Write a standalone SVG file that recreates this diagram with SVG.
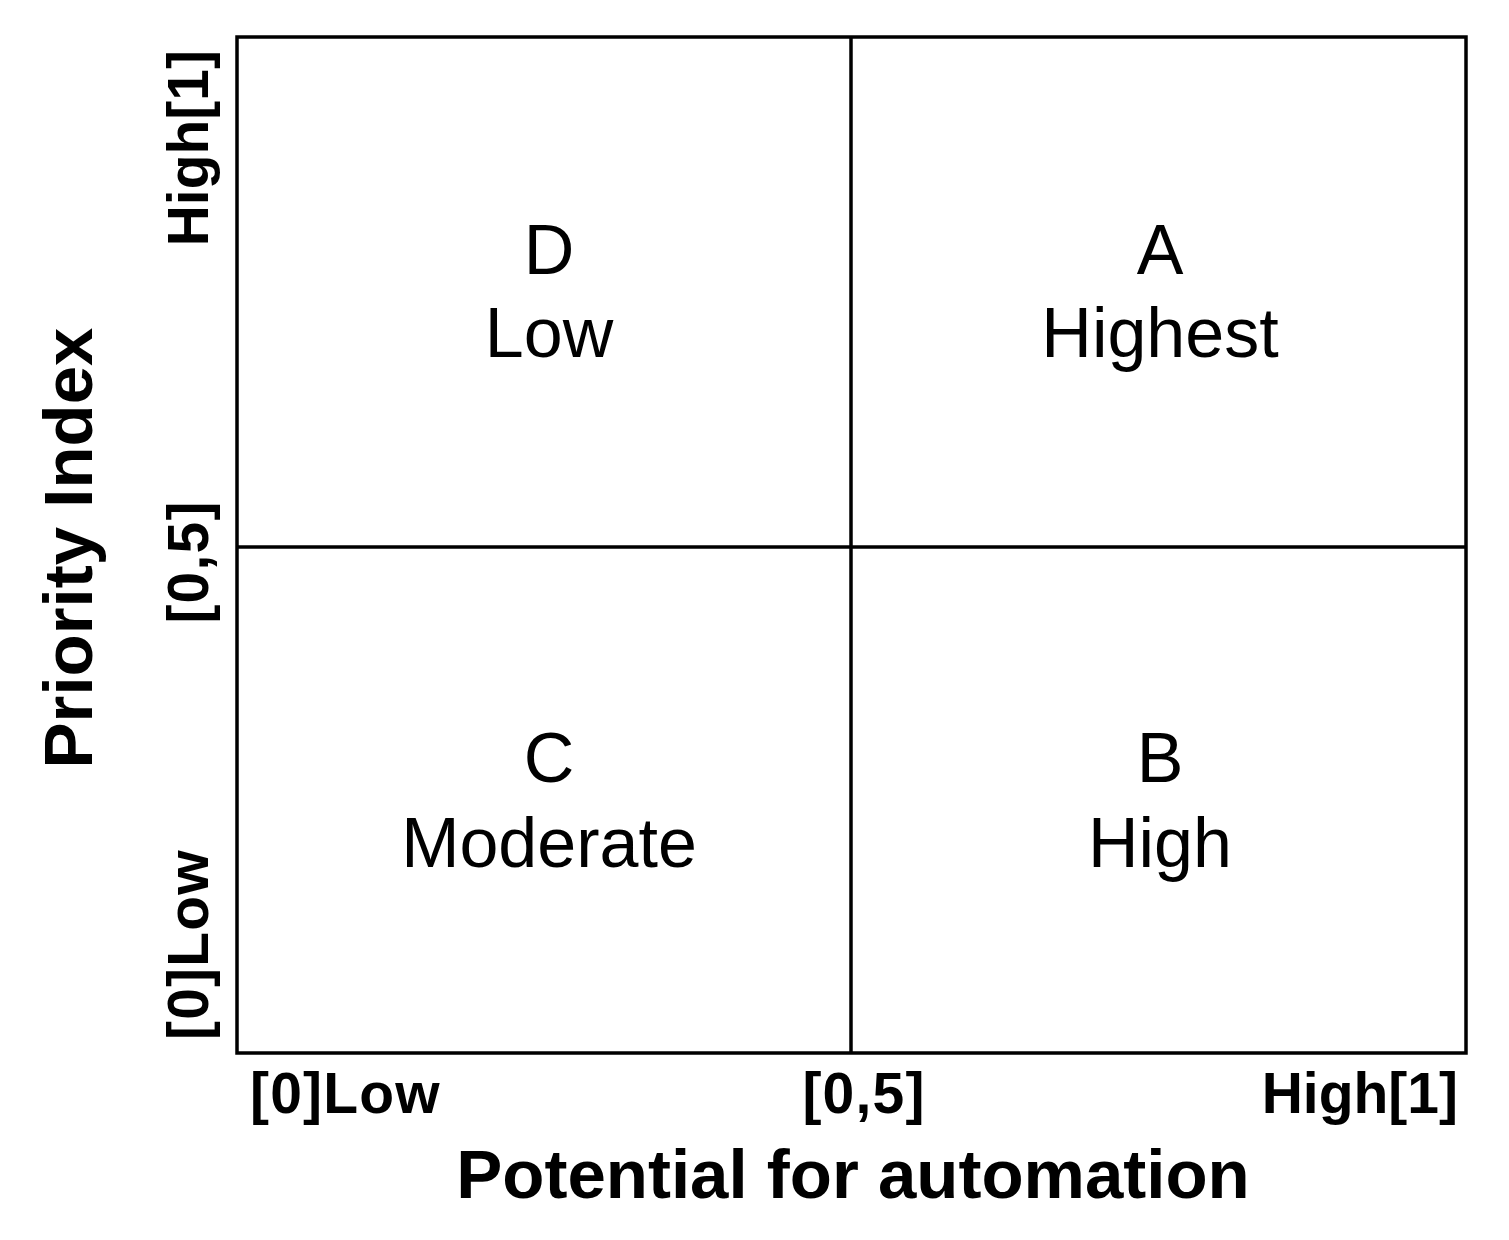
<svg xmlns="http://www.w3.org/2000/svg" width="1509" height="1240" viewBox="0 0 1509 1240">
<style>
.q{font-family:"Liberation Sans",Arial,sans-serif;font-size:70px;fill:#000;text-anchor:middle}
.t{font-family:"Liberation Sans",Arial,sans-serif;font-size:57px;font-weight:bold;fill:#000;letter-spacing:1.2px}
.e{letter-spacing:0;text-anchor:end}
.a{font-family:"Liberation Sans",Arial,sans-serif;font-size:69px;font-weight:bold;fill:#000;text-anchor:middle}
.ln{stroke:#000;stroke-width:3.5;fill:none}
</style>
<rect width="1509" height="1240" fill="#fff"/>
<g id="grid">
<rect class="ln" x="237" y="37" width="1229" height="1016"/>
<line class="ln" x1="851" y1="37" x2="851" y2="1053"/>
<line class="ln" x1="237" y1="547" x2="1466" y2="547"/>
</g>
<g id="quadD"><text class="q" x="549" y="274">D</text><text class="q" x="549" y="357">Low</text></g>
<g id="quadA"><text class="q" x="1160" y="274">A</text><text class="q" x="1160" y="357">Highest</text></g>
<g id="quadC"><text class="q" x="549" y="782">C</text><text class="q" x="549" y="867">Moderate</text></g>
<g id="quadB"><text class="q" x="1160" y="782">B</text><text class="q" x="1160" y="867">High</text></g>
<g id="xaxis">
<text class="t" x="250" y="1113">[0]Low</text>
<text class="t" x="864" y="1113" text-anchor="middle">[0,5]</text>
<text class="t e" x="1458" y="1113">High[1]</text>
<text class="a" x="853" y="1198">Potential for automation</text>
</g>
<g id="yaxis">
<text class="t" transform="translate(208,1040) rotate(-90)">[0]Low</text>
<text class="t" transform="translate(208,562) rotate(-90)" text-anchor="middle">[0,5]</text>
<text class="t e" transform="translate(208,50) rotate(-90)">High[1]</text>
<text class="a" transform="translate(92,548) rotate(-90)">Priority Index</text>
</g>
</svg>
